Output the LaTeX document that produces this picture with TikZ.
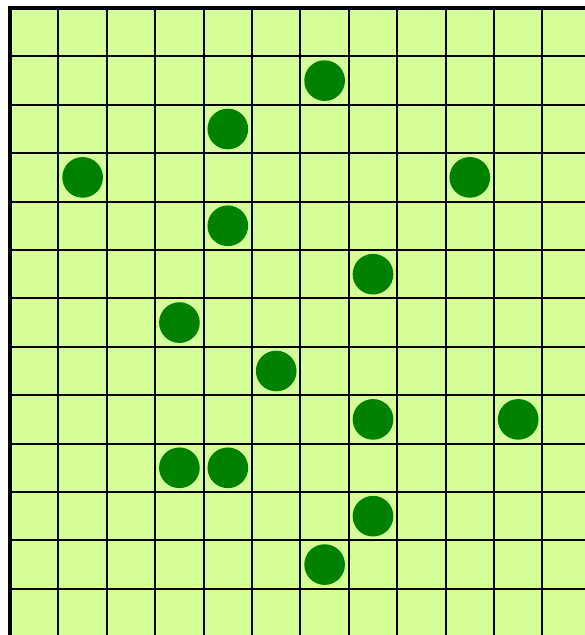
\documentclass[tikz,border=0pt]{standalone}
\definecolor{board}{RGB}{214,255,154}
\definecolor{stone}{RGB}{0,128,0}
\begin{document}
\begin{tikzpicture}[line cap=rect]
  % the board is larger than the page, only its top left part shows
  \useasboundingbox (-.207,.165) rectangle (11.88,-12.955);
  \clip (-.207,.165) rectangle (11.88,-12.955);
  \fill[board] (0,0) rectangle (12,-13);
  \foreach \x in {1,...,11} {
    \draw[line width=1.2pt] (\x,0) -- (\x,-13);
  }
  \foreach \y in {1,...,12} {
    \draw[line width=1.2pt] (0,-\y) -- (12,-\y);
  }
  \draw[line width=2.7pt] (0,0) rectangle (12,-13);
  \foreach \c/\r in {6/1,4/2,1/3,9/3,4/4,7/5,3/6,5/7,7/8,10/8,3/9,4/9,7/10,6/11} {
    \fill[stone] (\c+.5,-\r-.5) circle[radius=.42];
  }
\end{tikzpicture}
\end{document}
